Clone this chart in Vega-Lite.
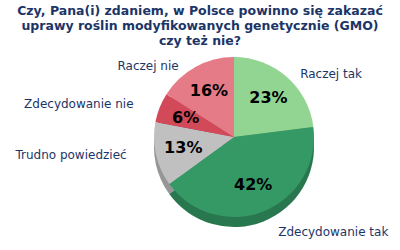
{
  "$schema": "https://vega.github.io/schema/vega-lite/v6.json",
  "width": 332,
  "height": 174,
  "autosize": "none",
  "padding": {"top": 50, "left": 68, "right": 0, "bottom": 26},
  "background": "white",
  "view": {"stroke": null},
  "title": {
    "text": ["Czy, Pana(i) zdaniem, w Polsce powinno się zakazać", "uprawy roślin modyfikowanych genetycznie (GMO)", "czy też nie?"],
    "font": "DejaVu Sans",
    "fontSize": 12.5,
    "fontWeight": "bold",
    "color": "#1c3567",
    "lineHeight": 15.3,
    "anchor": "middle",
    "dx": -34,
    "offset": 2
  },
  "data": {
    "values": [
      {"o": 1, "cat": "Raczej tak", "v": 0.23},
      {"o": 2, "cat": "Zdecydowanie tak", "v": 0.42},
      {"o": 3, "cat": "Trudno powiedzieć", "v": 0.13},
      {"o": 4, "cat": "Zdecydowanie nie", "v": 0.06},
      {"o": 5, "cat": "Raczej nie", "v": 0.16}
    ]
  },
  "transform": [
    {"stack": "v", "groupby": [], "sort": [{"field": "o", "order": "ascending"}], "as": ["s0", "s1"]},
    {"calculate": "(datum.s0 + datum.s1) / 2", "as": "mid"}
  ],
  "layer": [
    {
      "mark": {"type": "arc", "outerRadius": 80, "yOffset": 10},
      "encoding": {
        "theta": {"field": "s0", "type": "quantitative", "scale": {"domain": [0, 1]}},
        "theta2": {"field": "s1"},
        "color": {
          "field": "cat",
          "type": "nominal",
          "scale": {
            "domain": ["Raczej tak", "Zdecydowanie tak", "Trudno powiedzieć", "Zdecydowanie nie", "Raczej nie"],
            "range": ["#92d592", "#359966", "#c0c0c0", "#d24a5a", "#e57b86"]
          },
          "legend": null
        }
      }
    },
    {
      "mark": {"type": "arc", "outerRadius": 80, "yOffset": 10, "fill": "black", "fillOpacity": 0.22},
      "encoding": {
        "theta": {"field": "s0", "type": "quantitative", "scale": {"domain": [0, 1]}},
        "theta2": {"field": "s1"}
      }
    },
    {
      "mark": {"type": "arc", "outerRadius": 80},
      "encoding": {
        "theta": {"field": "s0", "type": "quantitative", "scale": {"domain": [0, 1]}},
        "theta2": {"field": "s1"},
        "color": {"field": "cat", "type": "nominal", "legend": null}
      }
    },
    {
      "mark": {"type": "text", "radius": 52, "font": "DejaVu Sans", "fontSize": 16, "fontWeight": "bold", "align": "center", "baseline": "middle", "color": "black"},
      "encoding": {
        "theta": {"field": "mid", "type": "quantitative", "scale": {"domain": [0, 1]}},
        "text": {"field": "v", "format": ".0%"}
      }
    },
    {
      "transform": [{"filter": "datum.cat == 'Raczej tak'"}],
      "mark": {"type": "text", "radius": 100, "font": "DejaVu Sans", "fontSize": 12, "align": "left", "baseline": "middle", "dy": 12, "color": "#1c3567"},
      "encoding": {"theta": {"field": "mid", "type": "quantitative", "scale": {"domain": [0, 1]}}, "text": {"field": "cat"}}
    },
    {
      "transform": [{"filter": "datum.cat == 'Zdecydowanie tak'"}],
      "mark": {"type": "text", "radius": 101, "font": "DejaVu Sans", "fontSize": 12, "align": "left", "baseline": "middle", "dx": 7, "dy": 1, "color": "#1c3567"},
      "encoding": {"theta": {"field": "mid", "type": "quantitative", "scale": {"domain": [0, 1]}}, "text": {"field": "cat"}}
    },
    {
      "transform": [{"filter": "datum.cat == 'Trudno powiedzieć'"}],
      "mark": {"type": "text", "radius": 110, "font": "DejaVu Sans", "fontSize": 12, "align": "right", "baseline": "middle", "dy": -6, "color": "#1c3567"},
      "encoding": {"theta": {"field": "mid", "type": "quantitative", "scale": {"domain": [0, 1]}}, "text": {"field": "cat"}}
    },
    {
      "transform": [{"filter": "datum.cat == 'Zdecydowanie nie'"}],
      "mark": {"type": "text", "radius": 108, "font": "DejaVu Sans", "fontSize": 12, "align": "right", "baseline": "middle", "dy": 7, "color": "#1c3567"},
      "encoding": {"theta": {"field": "mid", "type": "quantitative", "scale": {"domain": [0, 1]}}, "text": {"field": "cat"}}
    },
    {
      "transform": [{"filter": "datum.cat == 'Raczej nie'"}],
      "mark": {"type": "text", "radius": 90, "font": "DejaVu Sans", "fontSize": 12, "align": "right", "baseline": "middle", "dx": -12, "dy": 8, "color": "#1c3567"},
      "encoding": {"theta": {"field": "mid", "type": "quantitative", "scale": {"domain": [0, 1]}}, "text": {"field": "cat"}}
    }
  ]
}
